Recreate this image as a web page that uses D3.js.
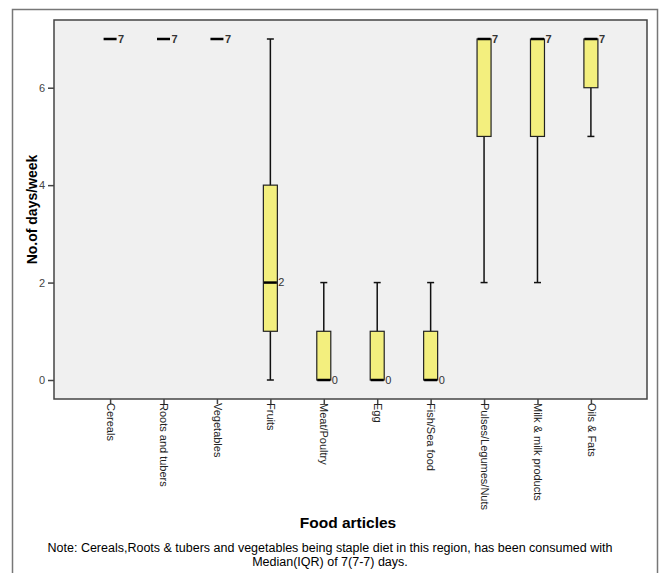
<!DOCTYPE html>
<html>
<head>
<meta charset="utf-8">
<script src="https://cdn.jsdelivr.net/npm/d3@7"></script>
<style>
  body { margin: 0; background: #fff; }
  svg { display: block; font-family: "Liberation Sans", Arial, sans-serif; }
</style>
</head>
<body>
<svg id="chart"></svg>
<script>
// Food articles and their weekly consumption summary
const categories = ["Cereals", "Roots and tubers", "Vegetables", "Fruits", "Meat/Poultry",
                    "Egg", "Fish/Sea food", "Pulses/Legumes/Nuts", "Milk & milk products", "Oils & Fats"];
const mins    = [7, 7, 7, 0, 0, 0, 0, 2, 2, 5];
const q1s     = [7, 7, 7, 1, 0, 0, 0, 5, 5, 6];
const medians = [7, 7, 7, 2, 0, 0, 0, 7, 7, 7];
const q3s     = [7, 7, 7, 4, 1, 1, 1, 7, 7, 7];
const maxs    = [7, 7, 7, 7, 2, 2, 2, 7, 7, 7];
const yTicks  = [0, 2, 4, 6];

const width = 659, height = 573;
const margin = { top: 20, right: 12, bottom: 174, left: 54 };

const svg = d3.select("#chart")
              .attr("width", width)
              .attr("height", height);

// outer frame
svg.append("rect")
   .attr("x", 12.5).attr("y", 9.5)
   .attr("width", 645).attr("height", 575)
   .attr("fill", "none")
   .attr("stroke", "#777")
   .attr("stroke-width", 1.5);

const xScale = d3.scalePoint()
                 .domain(categories)
                 .range([margin.left, width - margin.right])
                 .padding(1.05);

const yScale = d3.scaleLinear()
                 .domain([-0.39, 7.39])
                 .range([height - margin.bottom, margin.top]);

// plot background
svg.append("rect")
   .attr("x", margin.left)
   .attr("y", margin.top)
   .attr("width", width - margin.right - margin.left)
   .attr("height", height - margin.bottom - margin.top)
   .attr("fill", "#f0f0f0")
   .attr("stroke", "#444")
   .attr("stroke-width", 1.5);

// Y axis
const yAxis = svg.append("g")
   .attr("transform", `translate(${margin.left}, 0)`)
   .call(d3.axisLeft(yScale).tickValues(yTicks).tickSize(6).tickPadding(3).tickFormat(d3.format("d")));
yAxis.select(".domain").remove();
yAxis.selectAll("line").attr("stroke", "#444").attr("stroke-width", 1.5);
yAxis.selectAll("text").style("font-size", "11px").attr("fill", "#444");

// X axis
const xAxis = svg.append("g")
   .attr("transform", `translate(0, ${height - margin.bottom})`)
   .call(d3.axisBottom(xScale).tickSize(5).tickPadding(0));
xAxis.select(".domain").remove();
xAxis.selectAll("line").attr("stroke", "#444").attr("stroke-width", 1.5);
xAxis.selectAll("text")
     .style("font-size", "11px")
     .attr("fill", "#222")
     .attr("text-anchor", "start")
     .attr("dy", "0.35em")
     .attr("transform", "translate(0, 4) rotate(90)")
     .attr("y", 0).attr("x", 0);

// axis titles
svg.append("text")
   .attr("text-anchor", "middle")
   .attr("transform", `translate(37, ${(margin.top + height - margin.bottom) / 2}) rotate(-90)`)
   .style("font-size", "14px")
   .style("font-weight", "bold")
   .text("No.of days/week");

svg.append("text")
   .attr("x", 348)
   .attr("y", 528)
   .attr("text-anchor", "middle")
   .style("font-size", "15.5px")
   .style("font-weight", "bold")
   .text("Food articles");

// note
svg.append("text")
   .attr("x", 330).attr("y", 552)
   .attr("text-anchor", "middle")
   .style("font-size", "12.5px")
   .text("Note: Cereals,Roots & tubers and vegetables being staple diet in this region, has been consumed with");
svg.append("text")
   .attr("x", 330).attr("y", 566)
   .attr("text-anchor", "middle")
   .style("font-size", "12.5px")
   .text("Median(IQR) of 7(7-7) days.");

// boxplots
const boxWidth = 14, capWidth = 7;
categories.forEach((c, i) => {
    const x = xScale(c);

    if (maxs[i] > mins[i]) {
        svg.append("line")
           .attr("x1", x).attr("x2", x)
           .attr("y1", yScale(mins[i])).attr("y2", yScale(maxs[i]))
           .attr("stroke", "#111").attr("stroke-width", 1.5);
        [mins[i], maxs[i]].forEach(v => {
            svg.append("line")
               .attr("x1", x - capWidth / 2).attr("x2", x + capWidth / 2)
               .attr("y1", yScale(v)).attr("y2", yScale(v))
               .attr("stroke", "#111").attr("stroke-width", 1.5);
        });
    }

    if (q3s[i] > q1s[i]) {
        svg.append("rect")
           .attr("x", x - boxWidth / 2)
           .attr("y", yScale(q3s[i]))
           .attr("width", boxWidth)
           .attr("height", yScale(q1s[i]) - yScale(q3s[i]))
           .attr("fill", "#f3ef7e")
           .attr("stroke", "#222")
           .attr("stroke-width", 1.2);
    }

    // median
    svg.append("line")
       .attr("x1", x - boxWidth / 2 + 0.5).attr("x2", x + boxWidth / 2 - 0.5)
       .attr("y1", yScale(medians[i])).attr("y2", yScale(medians[i]))
       .attr("stroke", "#000").attr("stroke-width", 2.5);

    svg.append("text")
       .attr("x", x + boxWidth / 2 + 1)
       .attr("y", yScale(medians[i]))
       .attr("dy", "0.35em")
       .style("font-size", "11px")
       .style("font-weight", medians[i] === 7 ? "bold" : "normal")
       .attr("fill", "#333")
       .text(medians[i]);
});
</script>
</body>
</html>
